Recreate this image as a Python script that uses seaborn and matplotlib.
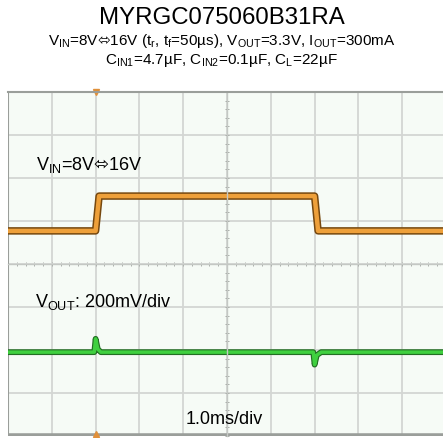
import matplotlib
matplotlib.use("Agg")
import matplotlib.pyplot as plt
import seaborn as sns
import pandas as pd
import numpy as np

# trace breakpoints (x in divisions of 1.0 ms, y in divisions from bottom)
vin_t = [0.0, 2.00, 2.08, 7.00, 7.08, 10.0]
vin_v = [4.77, 4.77, 5.58, 5.58, 4.77, 4.77]

vout_t = [0.0, 1.97, 2.00, 2.05, 2.12, 6.97, 7.00, 7.05, 7.15, 10.0]
vout_v = [1.95, 1.95, 2.26, 2.02, 1.95, 1.95, 1.66, 1.88, 1.95, 1.95]

trigger_t = 2.0

arrow = r"$\mathsf{⬄}$"
title = "MYRGC075060B31RA"
sub1 = (r"V$_{\mathrm{IN}}$=8V" + arrow + r"16V (t$_{\mathrm{r}}$, t$_{\mathrm{f}}$=50µs), "
        r"V$_{\mathrm{OUT}}$=3.3V, I$_{\mathrm{OUT}}$=300mA")
sub2 = r"C$_{\mathrm{IN1}}$=4.7µF, C$_{\mathrm{IN2}}$=0.1µF, C$_{\mathrm{L}}$=22µF"
vin_label = r"V$_{\mathrm{IN}}$=8V" + arrow + "16V"
vout_label = r"V$_{\mathrm{OUT}}$: 200mV/div"
time_label = "1.0ms/div"

sns.set_style("white")
plt.rcParams['font.family'] = ['Liberation Sans', 'DejaVu Sans']
plt.rcParams['mathtext.fontset'] = 'custom'
plt.rcParams['mathtext.rm'] = 'Liberation Sans'
plt.rcParams['mathtext.sf'] = 'DejaVu Sans'
plt.rcParams['text.color'] = 'black'

vin = pd.DataFrame({"t": vin_t, "v": vin_v})
vout = pd.DataFrame({"t": vout_t, "v": vout_v})

fig = plt.figure(figsize=(4.43, 4.39), dpi=100)
ax = fig.add_axes([8 / 443, 2 / 439, 438 / 443, 344 / 439])
ax.set_facecolor("#f6fbf6")

ax.set_xlim(0, 10)
ax.set_ylim(0, 8)
ax.set_xticks(np.arange(0, 11, 1))
ax.set_yticks(np.arange(0, 9, 1))
ax.grid(True, color="#d3d6d3", lw=1.3)
ax.set_xticklabels([])
ax.set_yticklabels([])

# center axes with fine ticks
ax.spines['left'].set_position(('data', 5))
ax.spines['bottom'].set_position(('data', 4))
for s in ['left', 'bottom']:
    ax.spines[s].set_color("#c4c8c4")
    ax.spines[s].set_linewidth(1.0)
ax.spines['top'].set_color("#9a9e9a")
ax.spines['top'].set_linewidth(1.5)
ax.spines['right'].set_visible(False)
ax.set_xticks(np.arange(0, 10.01, 0.2), minor=True)
ax.set_yticks(np.arange(0, 8.01, 0.2), minor=True)
ax.tick_params(which='both', direction='inout', length=3, width=0.7,
               color="#a8aca8", bottom=True, left=True)
ax.axvline(0, color="#9a9e9a", lw=1.5)
ax.axhline(0, color="#9a9e9a", lw=4)

# traces: dark edge underneath, bright core on top
sns.lineplot(data=vin, x="t", y="v", ax=ax, color="#76480f", lw=5.4, sort=False)
sns.lineplot(data=vin, x="t", y="v", ax=ax, color="#eea03a", lw=3.2, sort=False)
sns.lineplot(data=vout, x="t", y="v", ax=ax, color="#236e23", lw=4.2, sort=False)
sns.lineplot(data=vout, x="t", y="v", ax=ax, color="#3fd03f", lw=2.5, sort=False)
ax.set_xlabel("")
ax.set_ylabel("")

# trigger markers
ax.plot([trigger_t], [8], marker='v', ms=4, color="#e0903a", clip_on=False)
ax.plot([trigger_t], [0.05], marker='^', ms=4, color="#e0903a", clip_on=False)

ax.text(0.64, 6.33, vin_label, fontsize=13, va='center', ha='left')
ax.text(0.62, 3.14, vout_label, fontsize=13, va='center', ha='left')
ax.text(4.93, 0.4, time_label, fontsize=13, va='center', ha='center')

fig.text(0.5, 0.959, title, fontsize=17.3, ha='center', va='center')
fig.text(0.5, 0.907, sub1, fontsize=11, ha='center', va='center')
fig.text(0.5, 0.863, sub2, fontsize=11, ha='center', va='center')

fig.savefig("out.png", dpi=100)
